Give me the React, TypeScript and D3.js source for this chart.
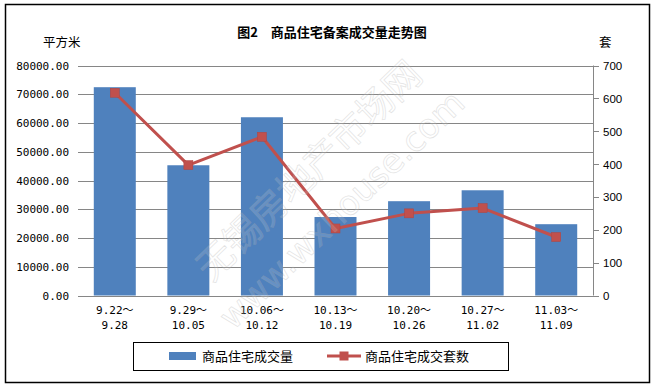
import React from "react";
import * as d3 from "d3";

const categories = [
  ["9.22～", "9.28"],
  ["9.29～", "10.05"],
  ["10.06～", "10.12"],
  ["10.13～", "10.19"],
  ["10.20～", "10.26"],
  ["10.27～", "11.02"],
  ["11.03～", "11.09"],
];
const areaValues = [72450, 45300, 62000, 27300, 32800, 36600, 24800];
const unitValues = [617, 397, 483, 204, 250, 266, 178];
const leftTicks = [0, 10000, 20000, 30000, 40000, 50000, 60000, 70000, 80000];
const rightTicks = [0, 100, 200, 300, 400, 500, 600, 700];
const title = "图2　商品住宅备案成交量走势图";
const leftUnit = "平方米";
const rightUnit = "套";
const barName = "商品住宅成交量";
const lineName = "商品住宅成交套数";

const W = 656;
const H = 388;
const plot = { left: 78, right: 593, top: 65.5, bottom: 295.5 };

export default function App() {
  const yL = d3.scaleLinear().domain([0, 80000]).range([plot.bottom, plot.top]);
  const yR = d3.scaleLinear().domain([0, 700]).range([plot.bottom, plot.top]);
  const x = d3
    .scaleBand<number>()
    .domain(categories.map((_, i) => i))
    .range([plot.left, plot.right])
    .padding(0);
  const cx = (i: number) => (x(i) as number) + x.bandwidth() / 2;
  const bw = 42;
  const line = d3
    .line<number>()
    .x((_, i) => cx(i))
    .y((d) => yR(d));

  const monoFont = "'DejaVu Sans Mono', 'Liberation Mono', 'Noto Sans CJK SC', monospace";
  const cjkFont = "'Noto Sans CJK SC', sans-serif";
  const gridColor = "#868686";
  const barColor = "#4F81BD";
  const lineColor = "#C0504D";
  const cell = 6.6;
  const labelLen = (s: string) =>
    Array.from(s).reduce((a, ch) => a + (ch === "～" ? 11 : cell), 0);

  return (
    <svg
      width={W}
      height={H}
      style={{ position: "absolute", left: 0, top: 0, background: "#fff" }}
    >
      <rect x={0} y={0} width={W} height={H} fill="#fff" />
      <rect x={5.5} y={4.5} width={644} height={378} fill="none" stroke="#000" strokeWidth={1.5} />
      <text x={332} y={37} textAnchor="middle" fontFamily={cjkFont} fontWeight="bold" fontSize={13} fill="#000">
        {title}
      </text>
      <text x={43} y={47} fontFamily={cjkFont} fontSize={12.5} fill="#000">
        {leftUnit}
      </text>
      <text x={599} y={47} fontFamily={cjkFont} fontSize={12.5} fill="#000">
        {rightUnit}
      </text>
      {leftTicks.map((t) => {
        const s = d3.format(".2f")(t);
        return (
          <g key={"l" + t}>
            <line x1={plot.left} x2={plot.right} y1={Math.round(yL(t)) + 0.5} y2={Math.round(yL(t)) + 0.5} stroke={gridColor} strokeWidth={1} />
            <text
              x={69 - s.length * cell}
              y={yL(t) + 4}
              textLength={s.length * cell}
              lengthAdjust="spacing"
              fontFamily={monoFont}
              fontSize={11}
              fill="#000"
            >
              {s}
            </text>
          </g>
        );
      })}
      <line x1={plot.right + 0.5} x2={plot.right + 0.5} y1={plot.top} y2={plot.bottom} stroke={gridColor} strokeWidth={1} />
      {rightTicks.map((t) => (
        <g key={"r" + t}>
          <line x1={plot.right} x2={plot.right + 6} y1={Math.round(yR(t)) + 0.5} y2={Math.round(yR(t)) + 0.5} stroke={gridColor} strokeWidth={1} />
          <text x={603} y={yR(t) + 4.5} fontFamily="'Liberation Sans', Arial, sans-serif" fontSize={11.5} fill="#000">
            {t}
          </text>
        </g>
      ))}
      {areaValues.map((v, i) => (
        <rect key={"b" + i} x={cx(i) - bw / 2} y={yL(v)} width={bw} height={yL(0) - yL(v)} fill={barColor} />
      ))}
      <path d={line(unitValues) || ""} fill="none" stroke={lineColor} strokeWidth={3} strokeLinejoin="round" />
      {unitValues.map((v, i) => (
        <rect key={"m" + i} x={cx(i) - 4.5} y={yR(v) - 4.5} width={9} height={9} fill={lineColor} stroke="#B04440" strokeWidth={0.5} />
      ))}
      {categories.map((c, i) => (
        <g key={"x" + i}>
          {c.map((s, k) => {
            const len = labelLen(s);
            return (
              <text
                key={k}
                x={cx(i) - len / 2}
                y={314 + k * 15}
                textLength={len}
                lengthAdjust="spacing"
                fontFamily={monoFont}
                fontSize={11}
                fill="#000"
              >
                {s}
              </text>
            );
          })}
        </g>
      ))}
      {/* watermark */}
      <g opacity={0.35} fontFamily={cjkFont} fill="#ffffff" fillOpacity={0.4} stroke="#b0b0b0" strokeWidth={0.7}>
        <text transform="translate(318,180) rotate(-44)" textAnchor="middle" fontSize={37}>
          无锡房地产市场网
        </text>
        <text transform="translate(350,218) rotate(-44)" textAnchor="middle" fontSize={34} fontFamily="'DejaVu Sans', sans-serif">
          www.wxhouse.com
        </text>
      </g>
      {/* legend */}
      <rect x={133.5} y={342.5} width={375} height={28} fill="#fff" stroke="#000" strokeWidth={1} />
      <rect x={169} y={352} width={27} height={8} fill={barColor} />
      <text x={202} y={361} fontFamily={cjkFont} fontSize={13} fill="#000">
        {barName}
      </text>
      <line x1={327} x2={361} y1={356} y2={356} stroke={lineColor} strokeWidth={3} />
      <rect x={339.5} y={351.5} width={9} height={9} fill={lineColor} />
      <text x={365} y={361} fontFamily={cjkFont} fontSize={13} fill="#000">
        {lineName}
      </text>
    </svg>
  );
}
